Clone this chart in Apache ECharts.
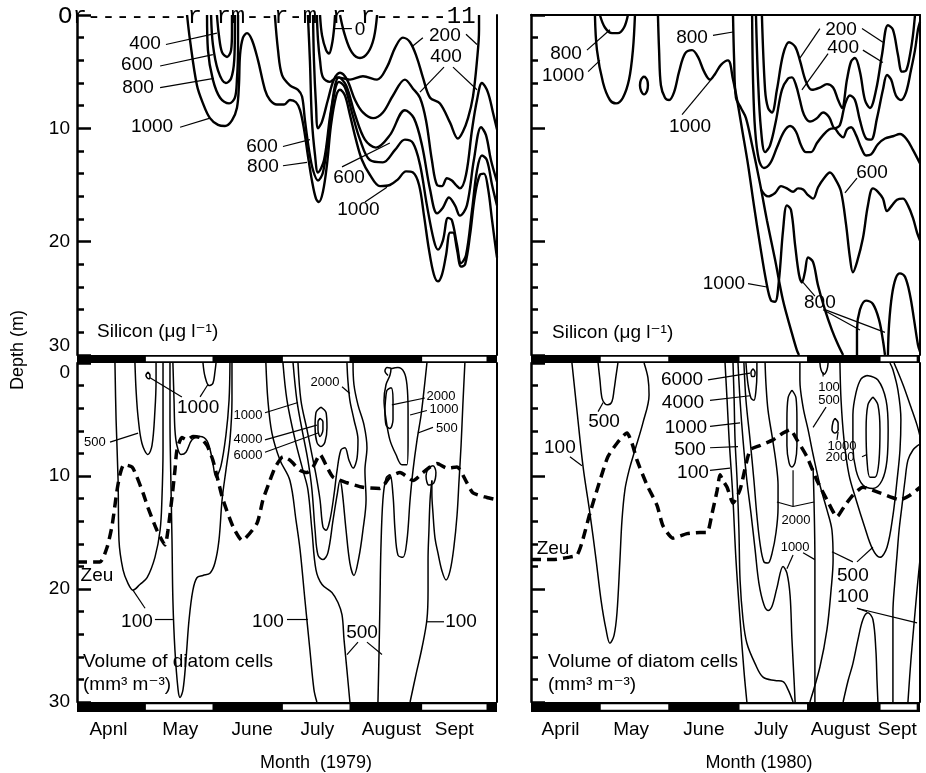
<!DOCTYPE html>
<html>
<head>
<meta charset="utf-8">
<title>Silicon and diatom volume, 1979 and 1980</title>
<script src="https://cdn.jsdelivr.net/npm/echarts@6/dist/echarts.min.js"></script>
<style>
  html, body { margin: 0; padding: 0; background: #fff; }
  #chart { width: 926px; height: 773px; }
</style>
</head>
<body>
<div id="chart"></div>
<script>
// x = days counted from 1 April, y = depth (m)
const monthStarts = [0, 30, 61, 91, 122, 153, 183]
const monthNames1979 = ['Apnl', 'May', 'June', 'July', 'August', 'Sept']
const monthMid1979 = [14, 46, 78, 107, 140, 168]
const monthNames1980 = ['April', 'May', 'June', 'July', 'August', 'Sept']
const monthMid1980 = [13, 44, 76, 105.5, 136, 161]
const days1979 = 187
const days1980 = 171

// ---- Silicon 1979 ----
const si79_400a = [[62.3,0],[63.2,1.8],[64.6,3.3],[66.8,3.7],[68.6,3.1],[69.0,1.5],[69.0,0]]
const si79_600a = [[59.7,0],[60.5,2.6],[62.8,4.9],[66.3,6.0],[68.6,5.6],[70.0,4.0],[70.3,1.3],[70.3,0]]
const si79_800a = [[57.9,0],[58.3,3.1],[60.5,5.7],[63.7,7.3],[67.7,7.8],[70.3,7.3],[71.2,5.7],[71.7,3.1],[71.7,0]]
const si79_1000 = [[49.0,0],[50.3,2.2],[53.4,6.2],[56.1,7.8],[59.2,9.1],[62.8,9.7],[65.9,9.8],[69.0,9.3],[71.2,8.2],[72.1,6.2],[72.6,3.5],[73.9,2.0],[75.7,1.6],[77.9,2.2],[80.6,4.0],[83.7,6.6],[85.9,7.5],[89.0,7.9],[92.2,7.9],[94.8,7.5],[97.5,7.7],[99.3,8.4],[101.1,10.1],[102.8,12.4],[104.6,14.6],[106.4,16.2],[107.7,16.5],[109.5,15.6],[111.3,13.2],[113.1,9.7],[115.3,7.2],[117.1,6.6],[119.3,7.1],[121.5,8.8],[124.2,11.0],[126.9,12.8],[130.4,14.1],[134.9,15.1],[139.3,15.0],[142.9,14.5],[146.5,13.8],[149.6,13.9],[152.3,15.0],[154.5,17.7],[156.7,20.7],[158.9,22.9],[160.7,23.5],[162.5,22.9],[164.3,21.2],[166.1,19.2],[167.4,19.2],[169.2,20.7],[171.0,22.2],[172.8,22.0],[175.0,19.4],[177.2,15.9],[179.4,14.1],[181.2,14.0],[183.0,15.3],[184.8,18.1],[186.5,20.7],[187.0,21.4]]
const si79_800 = [[88.1,0],[89.5,3.1],[91.3,5.3],[94.8,6.2],[98.4,6.6],[100.2,7.2],[101.5,9.3],[103.3,11.9],[105.1,13.7],[107.3,14.6],[109.5,13.9],[111.7,11.0],[114.0,7.5],[116.6,5.9],[119.3,6.4],[122.4,8.6],[126.0,11.0],[130.4,12.8],[136.2,13.0],[141.6,11.9],[146.0,11.0],[149.6,11.3],[152.7,13.2],[155.8,16.8],[158.9,19.9],[160.7,20.7],[162.9,19.9],[165.2,17.9],[166.9,18.1],[169.2,20.3],[171.0,21.9],[173.2,21.2],[175.9,17.2],[178.1,13.7],[180.3,12.4],[182.5,12.8],[184.8,15.0],[187.0,16.8]]
const si79_600 = [[102.8,0],[103.7,4.0],[104.6,9.3],[106.0,12.4],[107.3,13.9],[110.0,12.8],[113.1,8.4],[116.6,5.5],[119.8,6.2],[123.8,8.8],[128.2,11.0],[133.1,11.7],[139.3,10.6],[146.0,8.4],[150.0,9.1],[153.6,11.5],[157.2,15.4],[160.3,17.5],[162.9,17.0],[165.6,16.1],[168.3,16.8],[170.5,17.7],[173.6,16.8],[176.7,12.8],[179.9,9.9],[182.1,10.6],[184.3,12.8],[187.0,14.7]]
const si79_400 = [[105.1,0],[105.5,4.0],[106.4,7.9],[107.3,10.0],[109.1,9.4],[111.7,7.5],[114.4,5.7],[117.1,5.1],[120.2,5.7],[123.8,7.5],[127.3,8.6],[131.8,9.1],[136.2,8.6],[140.7,7.1],[146.0,5.7],[149.6,6.5],[152.7,7.3],[155.4,9.3],[158.0,12.8],[160.3,15.0],[162.5,15.1],[164.7,14.4],[166.9,14.6],[168.7,15.0],[170.5,15.3],[173.2,14.1],[175.9,10.1],[178.1,7.5],[180.3,6.0],[182.9,6.8],[185.2,8.6],[187.0,10.1]]
const si79_200 = [[106.8,0],[107.3,2.2],[108.2,4.0],[109.5,5.5],[112.6,5.9],[115.8,5.5],[121.5,5.7],[127.3,5.4],[133.6,5.7],[138.0,4.6],[141.6,2.9],[145.1,2.0],[148.3,2.4],[151.4,3.8],[154.0,5.5],[157.2,7.3],[161.6,7.8],[166.1,9.5],[169.6,10.9],[171.8,10.3],[174.1,9.1],[176.3,7.2],[178.1,4.0],[179.0,1.3],[179.0,0]]
const si79_capA = [[108.2,0],[109.1,1.8],[110.9,3.1],[112.2,3.4],[113.5,2.6],[114.4,1.3],[114.9,0]]
const si79_capB = [[117.1,0],[119.3,1.8],[122.4,3.3],[126.0,3.8],[129.6,3.3],[132.2,2.0],[133.6,0]]

// label text, centre (day, depth), leader segments [d1, z1, d2, z2]
const si79Labels = [
  ['400', 30.3, 2.5, [[39.6, 2.6, 62.3, 1.6]]],
  ['600', 26.7, 4.4, [[37.0, 4.5, 60.5, 3.5]]],
  ['800', 27.2, 6.4, [[37.0, 6.4, 61.0, 5.6]]],
  ['1000', 33.4, 9.9, [[45.9, 9.9, 59.2, 9.1]]],
  ['600', 82.4, 11.6, [[91.7, 11.6, 103.7, 11.0]]],
  ['800', 82.8, 13.4, [[91.7, 13.3, 102.4, 13.0]]],
  ['600', 121.1, 14.4, [[118.0, 13.4, 139.3, 11.3]]],
  ['1000', 125.3, 17.2, [[128.2, 16.5, 138.0, 15.2]]],
  ['200', 163.8, 1.8, [[154.0, 2.0, 149.1, 2.8], [173.2, 1.7, 178.1, 2.6]]],
  ['400', 164.3, 3.7, [[163.4, 4.6, 152.7, 6.8], [167.4, 4.6, 178.1, 6.6]]],
  ['0', 126.0, 1.3, [[114.0, 1.2, 122.4, 1.2]]]
]

// ---- Silicon 1980 ----
const si80_1000a = [[28.1,0],[29.0,3.1],[31.7,6.0],[34.7,7.5],[37.4,7.8],[40.4,7.3],[43.1,5.7],[44.8,3.1],[45.7,0]]
const si80_800a = [[30.3,0],[32.5,1.1],[35.6,1.6],[38.2,1.6],[40.9,1.1],[42.6,0]]
const si80_1000loop = [[49.7,5.4],[51.0,5.7],[51.4,6.2],[51.0,6.7],[49.7,7.0],[48.4,6.7],[47.9,6.2],[48.4,5.7],[49.7,5.4]]
const si80_1000b = [[55.8,0],[56.3,3.1],[57.1,6.2],[58.9,7.3],[60.7,7.5],[62.9,6.8],[65.1,5.0],[67.7,3.4],[70.8,3.1],[73.4,3.7],[76.1,5.0],[78.7,5.7],[80.9,5.2],[83.5,4.4],[86.6,4.0],[88.8,5.7],[90.6,7.5],[92.8,10.1],[95.4,13.2],[98.0,16.8],[100.7,20.3],[103.3,23.4],[105.5,25.2],[107.3,25.3],[109.0,23.4],[110.8,19.0],[112.5,16.8],[114.3,17.2],[116.1,20.3],[117.8,22.9],[119.1,23.6],[120.4,22.7],[121.8,21.4],[124.0,21.8],[126.1,23.8],[129.2,26.0],[132.3,27.8],[135.0,29.1],[137.2,30.0]]
const si80_800diag = [[88.8,0],[89.3,4.0],[90.1,7.3],[92.3,8.2],[94.5,9.1],[97.2,11.5],[100.7,14.9],[103.7,18.1],[107.3,21.6],[110.8,25.2],[114.3,27.8],[116.9,29.6],[117.8,30.0]]
const si80_200 = [[101.5,0],[102.9,6.6],[104.2,8.2],[105.9,8.6],[108.1,6.6],[110.8,3.5],[113.4,2.4],[116.1,2.8],[118.2,4.0],[120.9,5.9],[123.5,6.6],[127.0,6.4],[130.1,6.1],[132.8,6.4],[135.0,7.5],[136.7,8.2],[138.9,5.7],[140.7,4.1],[142.4,3.8],[144.6,5.0],[146.8,7.5],[149.0,8.2],[151.7,6.6],[154.3,3.5],[156.9,0.9],[159.1,1.3],[161.3,3.5],[163.1,5.0],[164.9,4.9],[166.6,3.5],[167.9,1.8],[168.8,0]]
const si80_400 = [[98.9,0],[99.8,5.7],[101.1,10.1],[102.9,12.1],[105.1,11.5],[107.7,9.3],[110.3,6.6],[113.0,5.6],[114.7,5.5],[116.5,6.2],[118.2,7.5],[120.0,8.8],[122.6,9.4],[125.7,9.1],[128.4,8.6],[131.0,9.0],[133.6,10.0],[135.8,9.7],[138.0,7.9],[140.2,7.1],[142.4,7.5],[144.6,9.3],[147.3,10.9],[149.5,11.0],[152.1,9.1],[154.7,6.6],[156.5,5.3],[158.3,5.7],[160.4,7.1],[162.6,7.5],[164.9,6.8],[167.0,4.9],[168.8,3.1],[170.1,1.3],[171.0,0.6]]
const si80_600 = [[97.2,0],[97.6,5.7],[98.5,10.1],[100.2,12.8],[102.4,13.5],[105.1,13.1],[108.1,11.7],[111.2,10.3],[113.9,9.8],[116.5,10.3],[118.7,11.5],[120.9,12.1],[123.1,12.1],[125.7,11.3],[128.4,10.6],[131.0,10.1],[133.2,10.0],[135.4,10.5],[137.2,10.8],[138.9,10.1],[140.7,9.9],[142.9,10.6],[145.1,11.7],[147.3,12.4],[149.5,12.3],[152.5,11.4],[155.6,10.9],[159.1,10.7],[162.2,10.5],[165.3,11.0],[167.9,11.9],[171.0,13.1]]
const si80_800b = [[101.1,15.4],[104.2,16.0],[107.3,15.7],[109.9,15.1],[112.5,15.3],[115.2,15.6],[117.4,15.3],[119.6,15.4],[121.8,15.9],[124.0,16.2],[126.2,15.2],[128.8,14.4],[131.4,13.9],[134.1,14.6],[136.3,15.6],[138.5,18.5],[140.2,21.4],[141.5,22.7],[143.3,21.8],[145.9,19.7],[148.1,16.8],[150.3,15.3],[152.5,15.6],[154.7,16.2],[156.5,17.3],[158.7,16.8],[160.9,16.3],[163.5,16.2],[165.7,16.8],[167.9,17.9],[169.7,19.2],[171.0,19.9]]
const si80_800c = [[143.3,30.0],[143.3,27.8],[144.6,26.0],[147.3,25.2],[150.3,25.5],[153.0,26.9],[154.7,28.7],[155.6,30.0]]
const si80_1000c = [[156.9,30.0],[157.4,27.3],[158.7,24.7],[160.4,23.2],[162.2,22.8],[164.4,23.1],[166.6,24.7],[168.4,26.9],[170.1,29.1],[171.0,29.7]]

const si80Labels = [
  ['800', 15.4, 3.4, [[24.6, 3.1, 34.7, 1.3]]],
  ['1000', 14.1, 5.4, [[25.1, 5.0, 30.3, 4.0]]],
  ['800', 70.8, 2.0, [[80.0, 1.8, 88.8, 1.5]]],
  ['1000', 69.9, 9.9, [[66.4, 8.8, 80.0, 5.5]]],
  ['200', 136.3, 1.3, [[127.0, 1.2, 118.2, 3.8], [145.5, 1.2, 154.7, 2.4]]],
  ['400', 137.2, 2.9, [[130.6, 3.4, 119.1, 6.6], [145.9, 3.1, 154.7, 4.2]]],
  ['600', 149.9, 13.9, [[143.3, 14.4, 138.0, 15.7]]],
  ['1000', 84.8, 23.7, [[95.4, 23.7, 103.7, 24.0]]],
  ['800', 127.0, 25.4, [[124.8, 24.8, 119.6, 23.6], [128.4, 26.0, 144.6, 27.8], [129.2, 26.0, 155.6, 28.0]]]
]

// ---- Diatom volume 1979 ----
const dia79_100a = [[16.9,0],[17.4,5.0],[18.3,10.4],[18.7,15.7],[20.5,18.3],[22.7,19.5],[24.9,20.1],[28.0,19.6],[31.2,19.0],[34.7,17.2],[37.0,14.8],[37.8,12.1],[38.3,7.7],[38.3,3.3],[38.3,0]]
const dia79_500a = [[25.8,0],[26.3,2.4],[27.2,4.8],[28.9,7.1],[31.6,8.1],[33.4,7.3],[34.7,4.2],[35.2,1.5],[35.2,0]]
const dia79_1000a = [[31.6,0.8],[32.5,1.1],[32.1,1.4],[31.2,1.3],[30.7,1.1],[31.6,0.8]]
const dia79_100b = [[41.4,0],[41.4,5.0],[41.8,10.4],[42.3,15.7],[42.7,21.0],[43.6,25.4],[45.0,28.9],[45.9,29.6],[47.2,28.9],[48.5,26.3],[49.9,22.7],[51.6,20.1],[53.4,19.0],[56.1,18.8],[59.2,18.6],[61.4,17.7],[63.2,15.7],[64.6,12.1],[66.3,9.5],[68.1,6.8],[69.0,3.3],[69.0,0]]
const dia79_500b = [[42.7,0],[43.2,3.3],[43.6,5.9],[44.5,7.3],[46.3,8.1],[48.5,7.9],[51.2,6.8],[54.8,6.5],[57.9,6.9],[60.1,8.4],[61.9,10.1],[64.1,9.1],[66.3,6.4],[67.7,3.3],[68.1,0]]
const dia79_1000b = [[56.1,0],[57.0,1.2],[58.8,2.0],[60.5,1.8],[61.4,0.8],[61.9,0]]
const dia79_100c = [[84.1,0],[85.0,3.3],[86.8,6.2],[90.4,8.6],[94.8,10.4],[97.5,13.9],[99.3,16.5],[101.5,21.0],[103.7,25.4],[105.5,28.9],[106.8,30.0]]
const dia79_500c = [[91.7,0],[93.5,3.3],[97.1,6.8],[100.6,9.5],[102.8,11.2],[104.6,14.8],[106.4,18.3],[109.1,19.6],[113.5,20.3],[116.2,21.2],[118.0,22.3],[118.9,24.5],[120.2,27.2],[121.5,30.0]]
const dia79_1000c = [[96.2,0],[97.9,3.3],[100.2,5.9],[102.8,8.6],[104.6,11.2],[106.0,14.8],[107.3,17.0],[109.5,17.4],[111.7,16.8],[114.0,13.9],[115.8,11.7],[117.1,10.4],[118.0,11.2],[119.8,14.8],[121.5,17.7],[123.3,18.8],[125.5,17.2],[127.3,14.8],[128.7,12.1],[128.2,9.5],[129.1,7.5],[127.8,5.5],[125.1,3.7],[123.3,1.9],[122.9,0]]
const dia79_2000 = [[98.4,0],[99.7,3.3],[102.4,5.9],[104.6,8.1],[106.4,9.9],[108.2,12.1],[109.5,14.5],[110.9,14.8],[112.6,13.9],[114.4,11.7],[115.8,9.5],[117.5,7.7],[119.3,7.5],[121.1,8.6],[122.9,9.3],[124.7,8.4],[125.1,6.8],[123.3,5.0],[121.5,3.3],[120.6,1.5],[120.2,0]]
const dia79_4000 = [[108.6,3.9],[110.9,4.4],[111.3,5.7],[110.4,7.0],[108.6,7.4],[106.8,7.0],[106.0,5.7],[106.4,4.4],[108.6,3.9]]
const dia79_6000 = [[108.2,4.9],[109.5,5.2],[109.5,5.9],[108.2,6.5],[107.3,5.9],[107.3,5.2],[108.2,4.9]]
const dia79_1000d = [[138.5,1.1],[137.1,0.7],[138.0,0.4],[139.8,0.5],[139.3,1.1],[137.6,1.9],[136.7,3.3],[137.6,5.0],[139.3,6.8],[142.0,8.1],[144.7,9.0],[146.9,9.0],[147.4,6.8],[147.4,4.2],[146.9,1.9],[145.6,0.8],[142.9,0.4],[139.8,0.5]]
const dia79_2000b = [[138.0,2.4],[139.8,2.2],[140.7,3.3],[140.7,5.0],[139.3,5.8],[137.6,5.5],[137.1,4.2],[137.6,2.8],[138.0,2.4]]
const dia79_500d = [[155.8,0],[154.5,2.4],[153.2,4.6],[151.4,6.8],[149.6,9.5],[148.3,12.1],[146.9,15.7],[145.1,17.2],[142.9,17.0],[141.6,14.8],[140.7,11.7],[139.3,9.9],[137.6,10.2],[136.2,12.1],[135.3,16.5],[134.9,21.0],[134.5,25.4],[134.0,30.0]]
const dia79_100d = [[148.3,30.0],[150.9,27.6],[153.6,25.2],[155.8,22.7],[156.3,20.1],[156.3,17.4],[156.7,14.8],[157.2,12.1],[158.0,10.4]]
const dia79_500e = [[172.7,0],[171.8,3.7],[171.0,7.3],[170.1,10.4],[169.2,13.5],[167.8,16.3],[166.1,18.4],[164.3,19.2],[162.5,18.4],[160.7,16.8],[159.4,15.5],[158.5,13.3],[158.0,11.5],[158.0,10.4]]
const dia79_leaf = [[156.3,9.3],[158.5,9.1],[159.8,9.7],[158.9,10.6],[156.7,10.8],[155.4,10.0],[156.3,9.3]]
const zeu79 = [[0,17.6],[10.2,17.6],[13.4,16.3],[15.6,14.4],[17.8,11.3],[19.1,9.9],[20.9,9.0],[24.5,9.2],[26.7,10.1],[29.4,11.5],[31.6,12.8],[35.6,14.8],[39.2,16.1],[40.5,14.8],[42.3,11.9],[43.6,9.5],[44.5,7.7],[46.7,6.6],[49.0,6.8],[51.6,6.5],[54.8,6.6],[57.9,7.3],[60.5,8.6],[62.8,10.4],[65.0,12.1],[69.5,14.5],[73.5,15.7],[80.1,14.2],[82.8,12.1],[85.9,10.4],[88.1,9.3],[91.7,8.3],[94.8,8.6],[99.3,9.5],[102.4,9.7],[105.1,9.2],[108.2,8.1],[111.3,9.2],[114.0,10.1],[120.2,10.6],[127.3,11.0],[134.9,11.1],[139.3,10.1],[143.8,9.7],[149.6,10.4],[154.0,9.7],[157.2,9.2],[160.3,8.9],[164.7,9.3],[169.2,9.2],[173.6,10.6],[176.3,11.5],[182.5,11.9],[187.0,12.1]]

const dia79Labels = [
  ['1000', 53.9, 4.0, [[46.7, 3.0, 32.5, 1.3], [54.8, 3.0, 58.3, 1.9]]],
  ['100', 26.7, 22.9, [[34.7, 22.7, 42.7, 22.7], [30.3, 21.7, 24.9, 20.1]]],
  ['100', 85.0, 22.9, [[93.5, 22.7, 102.8, 22.7]]],
  ['500', 126.9, 23.9, [[125.1, 24.7, 120.2, 25.8], [129.1, 24.7, 135.8, 25.8]]],
  ['100', 171.0, 22.9, [[155.8, 22.9, 163.4, 22.9]]],
  ['Zeu', 8.9, 18.8, []]
]
const dia79LabelsSmall = [
  ['500', 8.0, 7.0, [[14.7, 7.0, 27.2, 6.2]]],
  ['1000', 76.1, 4.6, [[83.7, 4.4, 98.4, 3.5]]],
  ['4000', 76.1, 6.8, [[83.7, 6.8, 106.8, 5.5]]],
  ['6000', 76.1, 8.2, [[83.7, 7.9, 107.3, 6.2]]],
  ['2000', 110.4, 1.7, [[118.0, 2.1, 121.5, 2.7]]],
  ['2000', 162.1, 3.0, [[154.9, 3.1, 140.2, 3.7]]],
  ['1000', 163.4, 4.1, [[155.8, 4.2, 148.3, 4.6]]],
  ['500', 164.7, 5.8, [[158.5, 5.7, 151.8, 6.2]]]
]

// ---- Diatom volume 1980 ----
const dia80_100a = [[18.0,0],[20.2,4.2],[22.9,9.2],[25.9,13.3],[28.6,17.4],[30.8,21.0],[33.0,23.6],[34.7,24.8],[36.5,24.1],[37.8,22.1],[39.1,17.4],[40.0,13.9],[41.3,11.2],[43.1,9.5],[45.7,7.7],[49.2,5.3],[51.9,2.8],[51.4,1.3],[49.7,0]]
const dia80_500a = [[29.5,0],[30.3,1.5],[31.2,3.1],[32.5,3.6],[33.8,3.7],[35.6,3.4],[36.5,2.4],[37.4,1.1],[38.2,0]]
const dia80_100b = [[85.3,0],[86.2,3.3],[87.1,6.8],[88.0,9.5],[88.8,12.1],[90.1,17.4],[91.9,22.7],[93.6,27.2],[94.9,30.0]]
const dia80_500b = [[88.8,0],[89.3,3.3],[89.7,6.8],[90.6,10.4],[91.4,14.8],[91.9,19.2],[93.2,22.7],[94.9,24.8],[98.5,26.6],[102.0,27.8],[107.3,28.1],[110.8,28.2],[113.0,28.9],[115.2,30.0]]
const dia80_1000b = [[91.0,0],[91.9,3.3],[93.2,6.8],[94.9,10.4],[96.7,13.3],[98.5,16.5],[100.2,19.5],[102.4,21.4],[104.2,21.9],[106.0,21.5],[108.1,19.9],[110.8,18.0],[112.5,18.6],[113.9,20.6],[114.7,24.4],[115.6,27.9],[116.1,30.0]]
const dia80_2000b = [[93.6,0],[94.5,3.3],[96.3,6.8],[98.0,10.4],[99.3,13.5],[100.7,16.0],[102.4,17.6],[104.2,17.7],[106.0,16.8],[107.7,15.0],[108.6,12.8],[108.6,10.8],[107.7,8.8],[106.0,6.5],[104.2,4.2],[103.3,1.9],[102.9,0]]
const dia80_4000 = [[94.5,0],[95.4,1.9],[96.7,3.1],[98.0,3.3],[98.9,2.4],[99.3,1.0],[99.3,0]]
const dia80_6000 = [[97.6,0.5],[98.5,0.8],[98.0,1.2],[97.2,1.2],[96.7,0.8],[97.6,0.5]]
const dia80_2000loop = [[114.7,2.4],[116.5,3.1],[116.9,5.0],[116.9,7.3],[116.1,8.8],[114.7,9.2],[113.4,8.8],[112.5,7.3],[112.5,5.0],[113.0,3.1],[114.7,2.4]]
const dia80_500c = [[118.2,0],[118.2,1.5],[119.6,3.9],[121.8,5.9],[124.0,8.1],[127.0,10.8],[130.1,13.0],[132.3,14.8],[132.8,17.4],[131.9,20.1],[130.1,23.6],[127.0,26.9],[122.6,30.0]]
const dia80_100c = [[124.0,9.3],[124.4,12.1],[124.8,17.4],[124.8,22.7],[124.8,30.0]]
const dia80_100d = [[127.0,0],[127.5,0.6],[128.8,1.0],[130.1,0.6],[130.6,0]]
const dia80_1000loop = [[133.6,4.9],[135.0,5.3],[135.0,5.9],[133.6,6.2],[132.3,5.9],[132.8,5.2],[133.6,4.9]]
const dia80_2000c = [[150.3,3.0],[152.5,3.7],[153.4,5.9],[153.0,8.6],[151.2,10.1],[149.0,10.1],[147.7,8.6],[147.3,5.9],[148.1,3.7],[150.3,3.0]]
const dia80_1000d = [[147.7,1.1],[152.5,1.5],[156.1,3.3],[157.0,5.9],[156.5,8.6],[154.3,10.4],[150.3,11.1],[145.9,10.8],[142.9,9.5],[141.5,7.3],[141.5,4.6],[142.9,2.6],[145.1,1.4],[147.7,1.1]]
const dia80_500d = [[135.8,0],[136.3,3.3],[137.6,6.8],[139.8,9.9],[142.9,12.1],[146.5,14.4],[150.0,16.4],[153.4,17.2],[156.5,16.3],[159.1,13.5],[160.9,10.4],[162.2,7.7],[162.6,5.0],[161.3,2.4],[159.1,0.6],[157.8,0]]
const dia80_100e = [[159.6,0],[163.5,1.9],[167.0,3.9],[169.7,5.5],[171.0,6.5]]
const dia80_100f = [[137.2,30.0],[139.4,28.1],[141.5,26.6],[143.7,24.5],[145.9,22.7],[148.1,22.1],[150.3,22.7],[151.6,25.4],[152.1,28.1],[152.5,30.0]]
const dia80_500e = [[159.1,30.0],[159.1,25.4],[159.1,22.1],[160.0,19.2],[160.9,17.0],[161.8,14.8],[163.1,12.6],[164.4,10.4],[165.7,8.6],[167.9,7.7],[170.0,7.3],[171.0,7.2]]
const dia80_100g = [[165.7,30.0],[167.0,26.3],[168.8,22.1],[170.1,19.2],[171.0,17.4]]
const zeu80 = [[0,17.4],[9.7,17.4],[16.3,17.2],[20.2,17.0],[22.4,15.9],[25.9,13.3],[30.3,10.4],[33.8,8.3],[37.8,7.1],[42.2,6.2],[44.4,7.1],[46.6,8.6],[51.0,10.8],[55.4,12.6],[58.0,14.4],[62.4,15.5],[68.6,15.1],[74.3,15.0],[77.4,15.0],[79.6,13.3],[81.8,11.3],[83.1,9.9],[84.4,10.4],[86.2,11.0],[88.8,12.4],[91.9,11.2],[96.3,7.7],[100.7,7.3],[106.4,6.8],[110.8,6.2],[113.9,5.9],[116.9,6.8],[121.3,8.3],[125.7,10.4],[130.1,12.1],[134.5,13.6],[138.0,12.6],[141.5,11.7],[145.9,11.0],[153.4,11.5],[162.2,12.1],[166.6,11.7],[171.0,11.0]]

const dia80Labels = [
  ['100', 12.7, 7.5, [[17.1, 8.3, 22.4, 9.1]]],
  ['500', 32.1, 5.2, [[29.5, 4.3, 31.7, 3.5]]],
  ['6000', 66.4, 1.5, [[77.8, 1.5, 96.3, 0.9]]],
  ['4000', 66.8, 3.5, [[78.7, 3.3, 96.3, 2.9]]],
  ['1000', 68.1, 5.7, [[78.7, 5.6, 91.9, 5.3]]],
  ['500', 69.9, 7.7, [[78.7, 7.5, 91.0, 7.4]]],
  ['100', 71.2, 9.7, [[78.7, 9.5, 87.5, 9.3]]],
  ['500', 141.5, 18.8, [[141.5, 17.6, 132.3, 16.7], [143.3, 17.6, 150.3, 16.3]]],
  ['100', 141.5, 20.7, [[143.3, 21.7, 169.7, 23.0], [143.3, 21.7, 147.7, 22.0]]],
  ['Zeu', 9.7, 16.4, []]
]
const dia80LabelsSmall = [
  ['100', 131.0, 2.2, [[128.4, 1.2, 128.4, 0.8]]],
  ['500', 131.0, 3.3, [[129.7, 3.9, 124.0, 5.7]]],
  ['1000', 136.7, 7.4, [[134.5, 6.8, 135.0, 6.1]]],
  ['2000', 135.8, 8.4, [[145.5, 8.3, 147.7, 8.1]]],
  ['2000', 116.5, 13.9, [[115.2, 12.7, 115.2, 9.5], [115.2, 12.7, 108.1, 12.3], [115.2, 12.7, 124.4, 12.3]]],
  ['1000', 116.1, 16.3, [[119.6, 16.8, 124.8, 17.4], [115.2, 17.0, 112.5, 18.2]]]
]

const si79Lines = [si79_400a, si79_600a, si79_800a, si79_1000, si79_800, si79_600, si79_400, si79_200, si79_capA, si79_capB]
const si80Lines = [si80_1000a, si80_800a, si80_1000loop, si80_1000b, si80_800diag, si80_200, si80_400, si80_600, si80_800b, si80_800c, si80_1000c]
const dia79Lines = [dia79_100a, dia79_500a, dia79_1000a, dia79_100b, dia79_500b, dia79_1000b, dia79_100c, dia79_500c, dia79_1000c, dia79_2000, dia79_4000, dia79_6000, dia79_1000d, dia79_2000b, dia79_500d, dia79_100d, dia79_500e, dia79_leaf]
const dia80Lines = [dia80_100a, dia80_500a, dia80_100b, dia80_500b, dia80_1000b, dia80_2000b, dia80_4000, dia80_6000, dia80_2000loop, dia80_500c, dia80_100c, dia80_100d, dia80_1000loop, dia80_2000c, dia80_1000d, dia80_500d, dia80_100e, dia80_100f, dia80_500e, dia80_100g]

const FONT = '"Liberation Sans", "DejaVu Sans", sans-serif'

// main panels: 0 = Si 1979, 1 = Si 1980, 2 = diatoms 1979, 3 = diatoms 1980
const panels = [
  { rect: { left: 77, top: 15, width: 420, height: 340 }, xMax: days1979, lines: si79Lines, lw: 2.4, labels: si79Labels, small: [], zeu: null, yLabels: true, topLine: false },
  { rect: { left: 531, top: 15, width: 389, height: 340 }, xMax: days1980, lines: si80Lines, lw: 2.4, labels: si80Labels, small: [], zeu: null, yLabels: false, topLine: true },
  { rect: { left: 77, top: 363, width: 420, height: 339 }, xMax: days1979, lines: dia79Lines, lw: 1.5, labels: dia79Labels, small: dia79LabelsSmall, zeu: zeu79, yLabels: true, topLine: false },
  { rect: { left: 531, top: 363, width: 389, height: 339 }, xMax: days1980, lines: dia80Lines, lw: 1.5, labels: dia80Labels, small: dia80LabelsSmall, zeu: zeu80, yLabels: false, topLine: false }
]
// black / white month strips
const strips = [
  { rect: { left: 77, top: 355, width: 420, height: 8 }, xMax: days1979, names: null, mids: null },
  { rect: { left: 77, top: 702, width: 420, height: 10 }, xMax: days1979, names: monthNames1979, mids: monthMid1979 },
  { rect: { left: 531, top: 355, width: 389, height: 8 }, xMax: days1980, names: null, mids: null },
  { rect: { left: 531, top: 702, width: 389, height: 10 }, xMax: days1980, names: monthNames1980, mids: monthMid1980 }
]

const grids = []
const xAxes = []
const yAxes = []
const series = []

function labelSeries(labels, gridIdx, size) {
  return {
    type: 'custom', xAxisIndex: gridIdx, yAxisIndex: gridIdx * 2, silent: true, z: 6, clip: false,
    data: labels.map(l => [l[1], l[2]]),
    encode: { x: 0, y: 1 },
    renderItem: (params, api) => {
      const l = labels[params.dataIndex]
      const c = api.coord([l[1], l[2]])
      const children = l[3].map(s => {
        const a = api.coord([s[0], s[1]])
        const b = api.coord([s[2], s[3]])
        return {
          type: 'line',
          shape: { x1: a[0], y1: a[1], x2: b[0], y2: b[1] },
          style: { stroke: '#000', lineWidth: 1.2 }
        }
      })
      children.push({
        type: 'text', x: c[0], y: c[1],
        style: { text: l[0], fill: '#000', font: size + 'px ' + FONT, align: 'center', verticalAlign: 'middle' }
      })
      return { type: 'group', children }
    }
  }
}

panels.forEach((p, i) => {
  grids.push(Object.assign({ show: false, containLabel: false }, p.rect))
  xAxes.push({
    type: 'value', gridIndex: i, min: 0, max: p.xMax, position: 'top',
    show: p.topLine,
    axisLine: { show: true, onZero: false, lineStyle: { color: '#000', width: 2 } },
    axisTick: { show: false }, axisLabel: { show: false }, splitLine: { show: false }
  })
  const isTop = i < 2
  yAxes.push({
    type: 'value', gridIndex: i, inverse: true, min: 0, max: 30, interval: 10, position: 'left',
    axisLine: { show: true, onZero: false, lineStyle: { color: '#000', width: 2.5 } },
    axisTick: { show: true, inside: true, length: 14, lineStyle: { color: '#000', width: 2.5 } },
    minorTick: { show: true, splitNumber: 5, length: 7, lineStyle: { color: '#000', width: 2.5 } },
    splitLine: { show: false },
    axisLabel: {
      show: p.yLabels, color: '#000', fontSize: 19, fontFamily: FONT, margin: 7,
      verticalAlignMinLabel: 'top', verticalAlignMaxLabel: isTop ? 'bottom' : 'middle',
      formatter: v => (isTop && v === 0) ? '' : String(v)
    }
  })
  yAxes.push({
    type: 'value', gridIndex: i, inverse: true, min: 0, max: 30, position: 'right',
    axisLine: { show: true, onZero: false, lineStyle: { color: '#000', width: 2 } },
    axisTick: { show: false }, axisLabel: { show: false }, splitLine: { show: false }
  })

  p.lines.forEach(pts => series.push({
    type: 'line', xAxisIndex: i, yAxisIndex: i * 2, data: pts,
    showSymbol: false, symbol: 'none', smooth: 0.35, silent: true, z: 3,
    lineStyle: { color: '#000', width: p.lw }
  }))
  if (p.zeu) {
    series.push({
      type: 'line', xAxisIndex: i, yAxisIndex: i * 2, data: p.zeu,
      showSymbol: false, symbol: 'none', smooth: 0.2, silent: true, z: 4,
      lineStyle: { color: '#000', width: 3.5, type: [10, 6], cap: 'butt' }
    })
  }
  series.push(labelSeries(p.labels, i, 19))
  if (p.small.length) series.push(labelSeries(p.small, i, 13))
})

strips.forEach((s, k) => {
  const g = 4 + k
  grids.push(Object.assign({ show: true, backgroundColor: '#000', borderWidth: 0 }, s.rect))
  xAxes.push({
    type: 'value', gridIndex: g, min: 0, max: s.xMax, position: 'bottom',
    axisLine: { show: false }, axisTick: { show: false }, splitLine: { show: false },
    axisLabel: s.names ? {
      show: true, customValues: s.mids, color: '#000', fontSize: 19, fontFamily: FONT, margin: 8,
      formatter: v => s.names[s.mids.indexOf(v)] || ''
    } : { show: false }
  })
  yAxes.push({
    type: 'value', gridIndex: g, min: 0, max: 1, show: false, splitLine: { show: false }
  })
  const whites = monthStarts.slice(0, -1)
    .map((m, j) => [m, Math.min(monthStarts[j + 1], s.xMax - 0.8), j])
    .filter(d => d[2] % 2 === 1)
  series.push({
    type: 'custom', xAxisIndex: g, yAxisIndex: 8 + k, silent: true, z: 5,
    data: whites,
    encode: { x: [0, 1], y: 2 },
    renderItem: (params, api) => {
      const a = api.coord([api.value(0), 0.78])
      const b = api.coord([api.value(1), 0.22])
      return {
        type: 'rect',
        shape: { x: a[0] + 1.5, y: a[1], width: b[0] - a[0] - 3, height: b[1] - a[1] },
        style: { fill: '#fff' }
      }
    }
  })
})

const textEl = (x, y, text, size) => ({
  type: 'text', x, y, silent: true, z: 10,
  style: { text, fill: '#000', font: size + 'px ' + FONT, align: 'left', verticalAlign: 'middle' }
})

const graphic = [
  {
    // scanned top edge of the 1979 silicon panel
    type: 'text', x: 58, y: 17, silent: true, z: 10,
    style: { text: 'Or-------r rm--r-m r r-----11', fill: '#000', font: '24px "Liberation Mono", "DejaVu Sans Mono", monospace', align: 'left', verticalAlign: 'middle' }
  },
  textEl(97, 332, 'Silicon (\u03bcg l\u207b\u00b9)', 19),
  textEl(552, 333, 'Silicon (\u03bcg l\u207b\u00b9)', 19),
  textEl(83, 662, 'Volume of diatom cells', 19),
  textEl(83, 685, '(mm\u00b3 m\u207b\u00b3)', 19),
  textEl(548, 662, 'Volume of diatom cells', 19),
  textEl(548, 685, '(mm\u00b3 m\u207b\u00b3)', 19),
  {
    type: 'text', x: 316, y: 763, silent: true,
    style: { text: 'Month  (1979)', fill: '#000', font: '18px ' + FONT, align: 'center', verticalAlign: 'middle' }
  },
  {
    type: 'text', x: 759, y: 763, silent: true,
    style: { text: 'Month (1980)', fill: '#000', font: '18px ' + FONT, align: 'center', verticalAlign: 'middle' }
  },
  {
    type: 'text', x: 18, y: 350, rotation: Math.PI / 2, silent: true,
    style: { text: 'Depth (m)', fill: '#000', font: '18px ' + FONT, align: 'center', verticalAlign: 'middle' }
  }
]

const chart = echarts.init(document.getElementById('chart'))
chart.setOption({
  animation: false,
  backgroundColor: '#fff',
  textStyle: { fontFamily: FONT },
  grid: grids,
  xAxis: xAxes,
  yAxis: yAxes,
  series,
  graphic
})
</script>
</body>
</html>
